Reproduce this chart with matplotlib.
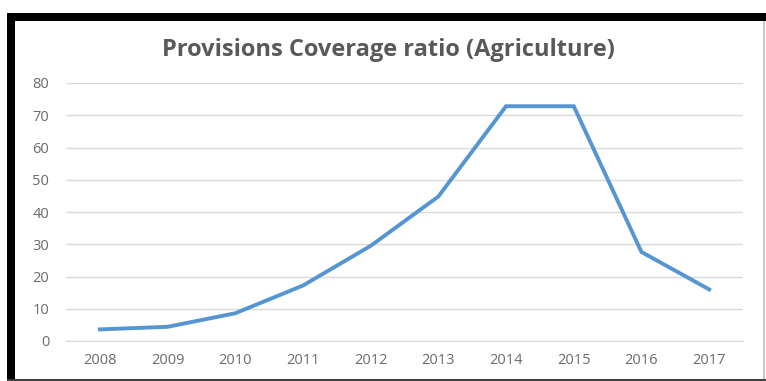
import matplotlib.pyplot as plt
from matplotlib.patches import Rectangle

years = ["2008", "2009", "2010", "2011", "2012", "2013", "2014", "2015", "2016", "2017"]
coverage = [3.6, 4.4, 8.6, 17.2, 29.5, 44.8, 72.8, 72.8, 27.6, 16.0]
y_ticks = [0, 10, 20, 30, 40, 50, 60, 70, 80]

W, H = 766, 381
fig = plt.figure(figsize=(W / 100, H / 100), dpi=100)
fig.patch.set_facecolor("white")

# plot area in pixel terms: x 66..743, y 83..341 (from top)
ax = fig.add_axes([66 / W, 1 - 341 / H, (743 - 66) / W, (341 - 83) / H])
x = list(range(len(years)))
ax.plot(x, coverage, color="#5596d2", linewidth=2.8, solid_joinstyle="miter", zorder=3)

ax.set_xlim(-0.5, len(years) - 0.5)
ax.set_ylim(0, 80)
ax.set_yticks(y_ticks)
ax.set_xticks(x)
ax.set_xticklabels(years)
ax.grid(axis="y", color="#d9d9d9", linewidth=1.0)
ax.set_axisbelow(True)
for side in ["top", "right", "left"]:
    ax.spines[side].set_visible(False)
ax.spines["bottom"].set_color("#d9d9d9")
ax.tick_params(axis="both", length=0, labelsize=10.5, labelcolor="#6a6a6a")
ax.tick_params(axis="y", pad=12)
ax.tick_params(axis="x", pad=9)
for lab in ax.get_xticklabels() + ax.get_yticklabels():
    lab.set_family("Open Sans")

fig.text(388 / W, 1 - 50 / H, "Provisions Coverage ratio (Agriculture)", ha="center", va="center",
         fontsize=17, fontweight="bold", color="#595959", family="Open Sans")

# black frame around the chart
def px_rect(x0, y0, x1, y1, color):
    fig.patches.append(Rectangle((x0 / W, 1 - y1 / H), (x1 - x0) / W, (y1 - y0) / H,
                                 transform=fig.transFigure, facecolor=color, edgecolor="none"))

px_rect(7, 13, W, 21, "black")
px_rect(7, 13, 15, H, "black")
px_rect(763, 21, 765, 379, "#c8c8c8")
px_rect(7, 378.5, W, H, "#404040")

fig.savefig("out.png", dpi=100)
